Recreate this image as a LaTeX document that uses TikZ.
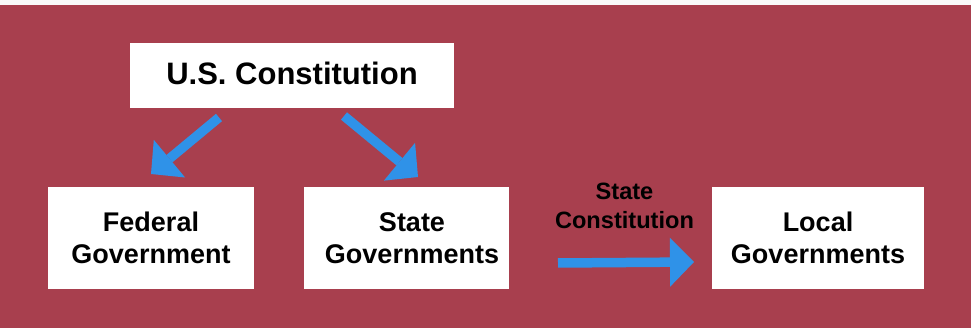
\documentclass[tikz,border=0pt]{standalone}
\usepackage{fontspec}
\setmainfont{Liberation Sans}
\usetikzlibrary{arrows.meta}
\definecolor{bgred}{RGB}{168,63,78}
\definecolor{arrowblue}{RGB}{47,146,232}
\definecolor{topstrip}{RGB}{249,249,249}
\begin{document}
\begin{tikzpicture}[x=1pt,y=-1pt,
  box/.style={fill=white, draw=none, inner sep=0pt, align=center,
    font=\bfseries\fontsize{27}{31.5}\selectfont},
  titlebox/.style={box, font=\bfseries\fontsize{31}{37}\selectfont},
  edgelabel/.style={inner sep=0pt, align=center, text=black,
    font=\bfseries\fontsize{23.6}{28.3}\selectfont},
  bigarrow/.style={draw=arrowblue, line width=9.5pt,
    -{Triangle[width=49pt,length=24pt,line width=0pt]}}]
\useasboundingbox (0,0) rectangle (971,328);
\fill[topstrip] (0,0) rectangle (971,5);
\fill[bgred] (0,5) rectangle (971,328);

\node[titlebox, minimum width=324pt, minimum height=65pt] (usc) at (292,75.5)
  {\raisebox{2pt}[\height][\depth]{U.S. Constitution}};
\node[box, minimum width=206pt, minimum height=102pt] (fed) at (151,238) {Federal\\Government};
\node[box, minimum width=205pt, minimum height=102pt] (state) at (406.5,238)
  {\hspace*{11pt}State\\\hspace*{11pt}Governments};
\node[box, minimum width=212pt, minimum height=102pt] (local) at (818,238) {Local\\Governments};

\coordinate (a1s) at (219,117.5);
\coordinate (a1e) at (151,174);
\coordinate (a2s) at (344,116);
\coordinate (a2e) at (418,177);
\coordinate (a3s) at (558,263);
\coordinate (a3e) at (694,262);

\draw[bigarrow] (a1s) -- (a1e);
\draw[bigarrow] (a2s) -- (a2e);
\draw[bigarrow] (a3s) -- (a3e);

\node[edgelabel] (lbl) at (624.5,206) {State\\Constitution};
\end{tikzpicture}
\end{document}
